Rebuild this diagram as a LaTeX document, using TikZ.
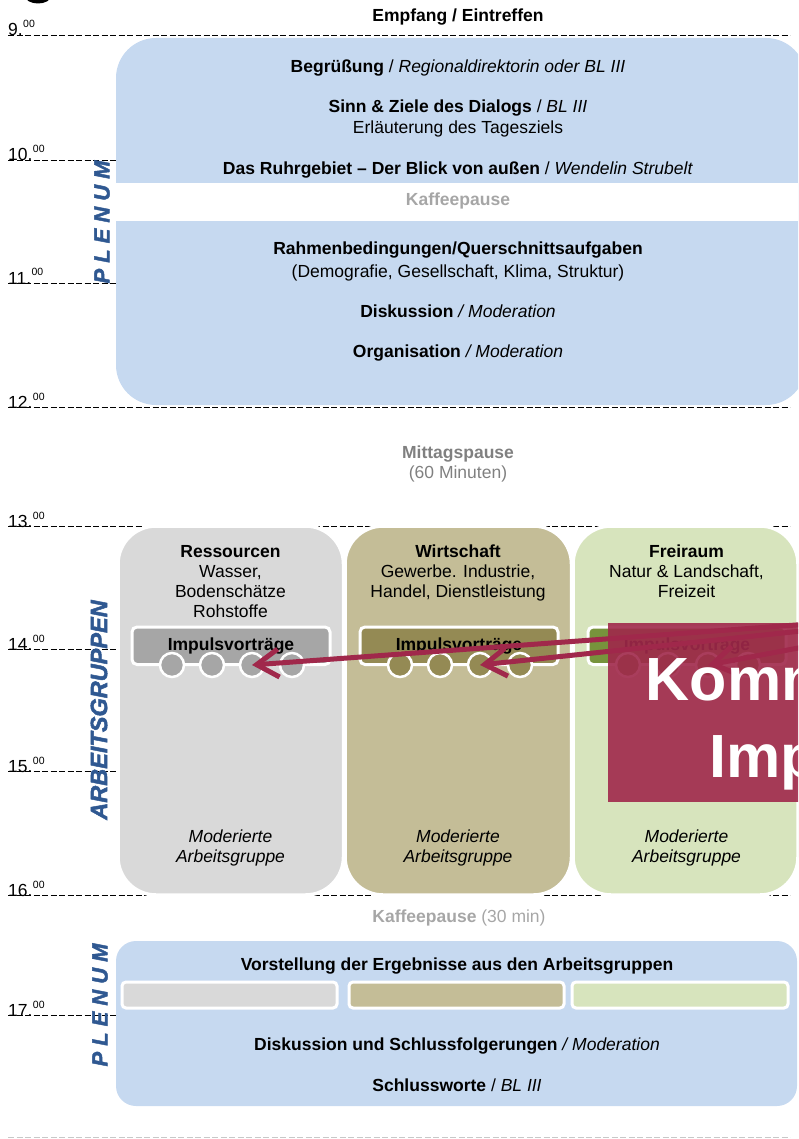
\documentclass[tikz,border=0pt]{standalone}
\usepackage{fontspec}
\setmainfont{Liberation Sans}
\newfontfamily\sidefont[FakeBold=2]{Liberation Sans Bold Italic}
\usetikzlibrary{arrows.meta}
\definecolor{plenum}{RGB}{198,217,240}
\definecolor{grpgray}{RGB}{217,217,217}
\definecolor{grptan}{RGB}{196,189,151}
\definecolor{grpgreen}{RGB}{215,228,189}
\definecolor{bargray}{RGB}{166,166,166}
\definecolor{bartan}{RGB}{148,138,84}
\definecolor{bargreen}{RGB}{119,147,60}
\definecolor{labelblue}{RGB}{47,88,145}
\definecolor{pausegray}{RGB}{166,166,166}
\definecolor{midgray}{RGB}{128,128,128}
\definecolor{accent}{RGB}{160,40,75}
\definecolor{endline}{RGB}{200,200,200}
\begin{document}
\begin{tikzpicture}[x=1pt,y=-1pt,
  body/.style={font=\fontsize{17.5}{20.5}\selectfont, anchor=base, inner sep=0pt, text=black},
  pause/.style={body, text=pausegray},
  tlab/.style={font=\fontsize{17.5}{20}\selectfont, anchor=base west, inner sep=0pt},
  tsup/.style={font=\fontsize{10.5}{11}\selectfont, anchor=base west, inner sep=0pt},
  hourline/.style={draw=black, line width=0.9pt, dash pattern=on 6pt off 2.5pt},
  sidelabel/.style={font=\sidefont\fontsize{22}{22}\selectfont, text=labelblue, rotate=90, inner sep=0pt},
  grpbox/.style={draw=white, line width=3.5pt, rounded corners=38pt},
  impbar/.style={draw=white, line width=3pt, rounded corners=5pt},
  minibar/.style={draw=white, line width=3pt, rounded corners=4pt},
  circ/.style={circle, draw=white, line width=2.5pt, minimum size=24pt, inner sep=0pt},
  arrowline/.style={draw=accent, line width=5pt, -{Straight Barb[length=22pt,width=28pt]}},
  bigtxt/.style={font=\bfseries\fontsize{61}{61}\selectfont, text=white, anchor=base west, inner sep=0pt}
]
\useasboundingbox (0,0) rectangle (798,1139);
\clip (0,0) rectangle (798,1139);

% cropped black shape at the top
\fill[black] (38,-4) ellipse [x radius=13, y radius=7.5];

% hour lines
\foreach \y in {35,160,283,407,526,649,771,895,1015} {
  \draw[hourline] (8,\y) -- (790,\y);
}
\draw[draw=endline, line width=0.9pt, dash pattern=on 6pt off 2.5pt] (8,1137) -- (790,1137);

% Plenum 1
\fill[plenum, rounded corners=40pt] (116,38) rectangle (806,405);
\fill[white] (110,183) rectangle (810,221);

% Plenum 2
\fill[plenum, rounded corners=20pt] (116,941) rectangle (797,1106);

% working group boxes
\draw[grpbox, fill=grpgray] (118,526) rectangle (343.5,895);
\draw[grpbox, fill=grptan] (345,526) rectangle (571.5,895);
\draw[grpbox, fill=grpgreen] (573,526) rectangle (798,895);

% top texts
\node[body] (empf) at (458,22) {\textbf{Empfang / Eintreffen}};
\node[body] (begr) at (458,73) {\textbf{Begrüßung} / \textit{Regionaldirektorin oder BL III}};
\node[body] (sinn) at (458,113) {\textbf{Sinn \& Ziele des Dialogs} / \textit{BL III}};
\node[body] (erl) at (458,134) {Erläuterung des Tagesziels};
\node[body] (ruhr) at (458,175) {\textbf{Das Ruhrgebiet -- Der Blick von außen} / \textit{Wendelin Strubelt}};
\node[pause] (kp1) at (458,206) {\textbf{Kaffeepause}};
\node[body] (rahm) at (458,255) {\textbf{Rahmenbedingungen/Querschnittsaufgaben}};
\node[body] (demo) at (458,277) {(Demografie, Gesellschaft, Klima, Struktur)};
\node[body] (disk) at (458,317) {\textbf{Diskussion} \textit{/ Moderation}};
\node[body] (orga) at (458,357) {\textbf{Organisation} \textit{/ Moderation}};

\node[body, text=midgray] (mit1) at (458,458) {\textbf{Mittagspause}};
\node[body, text=midgray] (mit2) at (458,478) {(60 Minuten)};

% group texts
\node[body] (r1) at (230.5,557) {\textbf{Ressourcen}};
\node[body] (r2) at (230.5,577) {Wasser,};
\node[body] (r3) at (230.5,597) {Bodenschätze};
\node[body] (r4) at (230.5,617) {Rohstoffe};
\node[body] (w1) at (458,557) {\textbf{Wirtschaft}};
\node[body] (w2) at (458,577) {Gewerbe. Industrie,};
\node[body] (w3) at (458,597) {Handel, Dienstleistung};
\node[body] (f1) at (686.5,557) {\textbf{Freiraum}};
\node[body] (f2) at (686.5,577) {Natur \& Landschaft,};
\node[body] (f3) at (686.5,597) {Freizeit};

\node[body] (m1a) at (230.5,842) {\textit{Moderierte}};
\node[body] (m1b) at (230.5,862) {\textit{Arbeitsgruppe}};
\node[body] (m2a) at (458,842) {\textit{Moderierte}};
\node[body] (m2b) at (458,862) {\textit{Arbeitsgruppe}};
\node[body] (m3a) at (686.5,842) {\textit{Moderierte}};
\node[body] (m3b) at (686.5,862) {\textit{Arbeitsgruppe}};

% Impulsvortraege bars
\draw[impbar, fill=bargray] (132,627) rectangle (330,664.5);
\draw[impbar, fill=bartan] (360,627) rectangle (558,664.5);
\draw[impbar, fill=bargreen] (588,627) rectangle (786,664.5);
\node[body] (i1) at (231,650) {\textbf{Impulsvorträge}};
\node[body] (i2) at (459,650) {\textbf{Impulsvorträge}};
\node[body] (i3) at (687,650) {\textbf{Impulsvorträge}};
\foreach \n/\x in {a/0,b/40,c/80,d/120} {
  \node[circ, fill=bargray] (c1\n) at (172+\x,665) {};
  \node[circ, fill=bartan] (c2\n) at (400+\x,665) {};
  \node[circ, fill=bargreen] (c3\n) at (628+\x,665) {};
}

% arrows
\coordinate (src) at (1000,610);
\draw[arrowline] (src) -- (c1c.center);
\draw[arrowline] (src) -- (c2c.center);
\draw[arrowline] (src) -- (c3c.center);

% overlay box
\fill[accent, opacity=0.9] (608,623) rectangle (950,802);
\node[bigtxt] (komm) at (645.5,700) {Komm};
\node[bigtxt] (imp) at (709,777) {Imp};

% coffee break 2
\node[pause] (kp2) at (459,922) {\textbf{Kaffeepause} (30 min)};

% plenum 2 contents
\node[body] (vor) at (457,970) {\textbf{Vorstellung der Ergebnisse aus den Arbeitsgruppen}};
\draw[minibar, fill=grpgray] (122,982) rectangle (337,1008);
\draw[minibar, fill=grptan] (349,982) rectangle (564,1008);
\draw[minibar, fill=grpgreen] (572,982) rectangle (788,1008);
\node[body] (dis2) at (457,1050) {\textbf{Diskussion und Schlussfolgerungen} \textit{/ Moderation}};
\node[body] (schl) at (457,1091) {\textbf{Schlussworte} / \textit{BL III}};

% side labels
\node[sidelabel] (pl1) at (102,222) {P\hspace{6pt}L\hspace{6pt}E\hspace{6pt}N\hspace{6pt}U\hspace{6pt}M};
\node[sidelabel, font=\sidefont\fontsize{23.5}{24}\selectfont] (ag) at (99,710) {ARBEITSGRUPPEN};
\node[sidelabel] (pl2) at (100,1005) {P\hspace{6pt}L\hspace{6pt}E\hspace{6pt}N\hspace{6pt}U\hspace{6pt}M};

% time labels
\foreach \h/\y in {9/36,10/161,11/284,12/408,13/527,14/650,15/772,16/896,17/1016} {
  \node[tlab] (t\h) at (8,\y) {\h.};
  \node[tsup] (s\h) at ([yshift=8pt]t\h.base east) {00};
}
\end{tikzpicture}
\end{document}
